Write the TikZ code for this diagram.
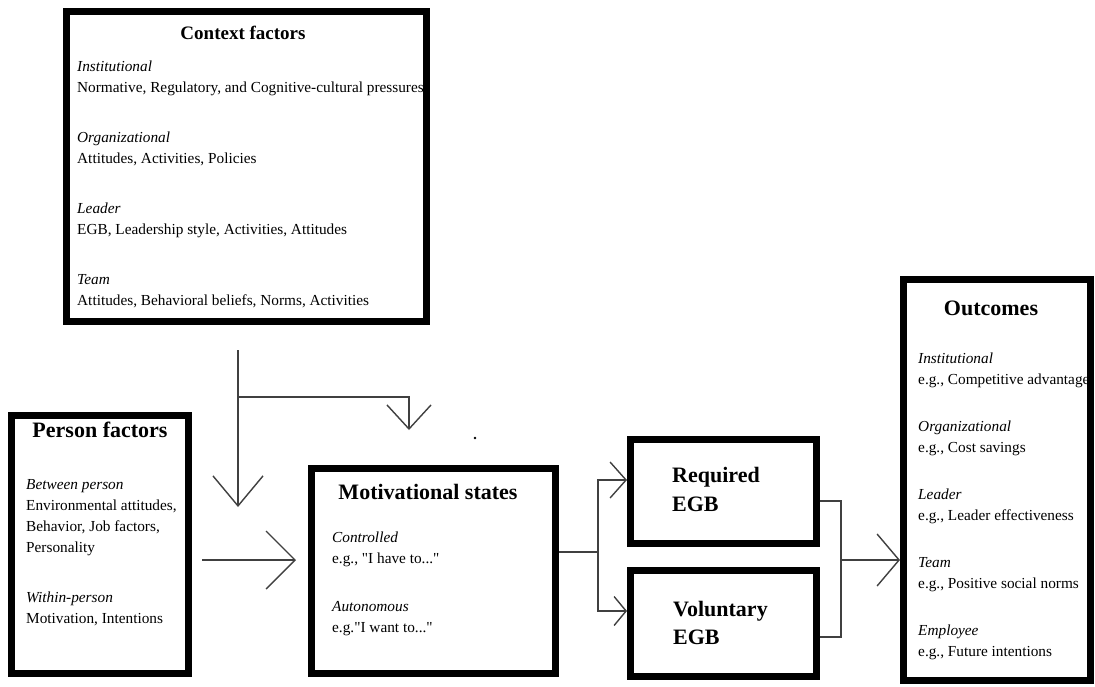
\documentclass[tikz,border=0pt]{standalone}
\usepackage{fontspec}
\setmainfont{Liberation Serif}
\usetikzlibrary{arrows.meta,positioning,calc}

\begin{document}
\begin{tikzpicture}[x=1pt, y=-1pt,
    box/.style={draw, line width=6.5pt, inner sep=0pt},
    ttl/.style={font=\fontsize{22}{28}\selectfont\bfseries, inner sep=0pt},
    body/.style={anchor=north west, align=left, inner sep=0pt, font=\fontsize{15.3}{21}\selectfont},
    conn/.style={line width=1.4pt, black!75},
    barb/.style 2 args={-{Straight Barb[length=#1pt, width=#2pt]}}]
    \useasboundingbox[fill=white] (0,0) rectangle (1095,686);

    % Boxes
    \node[box, minimum width=360pt, minimum height=310pt] (ctx) at (246.5,166.5) {};
    \node[box, minimum width=177pt, minimum height=258pt] (pers) at (100,544.5) {};
    \node[box, minimum width=244pt, minimum height=205pt] (mot) at (433.5,571) {};
    \node[box, minimum width=186pt, minimum height=104pt] (req) at (723.5,491.5) {};
    \node[box, minimum width=186pt, minimum height=106pt] (vol) at (723.5,623.5) {};
    \node[box, minimum width=187pt, minimum height=401pt] (out) at (997,480) {};

    % Context factors
    \node[ttl, font=\fontsize{19}{23}\selectfont\bfseries] (ctxttl) at (243,33) {Context factors};
    \node[body] (ctxtxt) at (77,61) {\textit{Institutional}\\
        Normative, Regulatory, and Cognitive-cultural pressures\\[29pt]
        \textit{Organizational}\\
        Attitudes, Activities, Policies\\[29pt]
        \textit{Leader}\\
        EGB, Leadership style, Activities, Attitudes\\[29pt]
        \textit{Team}\\
        Attitudes, Behavioral beliefs, Norms, Activities};

    % Person factors
    \node[ttl] (persttl) at (100,430) {Person factors};
    \node[body] (perstxt) at (26,479) {\textit{Between person}\\
        Environmental attitudes,\\
        Behavior, Job factors,\\
        Personality\\[29pt]
        \textit{Within-person}\\
        Motivation, Intentions};

    % Motivational states
    \node[ttl] (motttl) at (428,492) {Motivational states};
    \node[body] (mottxt) at (332,532) {\textit{Controlled}\\
        e.g., \textquotedbl I have to...\textquotedbl\\[27pt]
        \textit{Autonomous}\\
        e.g.\textquotedbl I want to...\textquotedbl};

    % EGB
    \node[ttl, anchor=north west, align=left, font=\fontsize{22}{29}\selectfont\bfseries] (reqttl) at (672,467) {Required\\EGB};
    \node[ttl, anchor=north west, align=left, font=\fontsize{22}{28}\selectfont\bfseries] (volttl) at (673,601) {Voluntary\\EGB};

    % Outcomes
    \node[ttl] (outttl) at (991,308) {Outcomes};
    \node[body] (outtxt) at (918,353) {\textit{Institutional}\\
        e.g., Competitive advantage\\[26pt]
        \textit{Organizational}\\
        e.g., Cost savings\\[26pt]
        \textit{Leader}\\
        e.g., Leader effectiveness\\[26pt]
        \textit{Team}\\
        e.g., Positive social norms\\[26pt]
        \textit{Employee}\\
        e.g., Future intentions};

    % Connectors
    \coordinate (ctxout) at (238,350);
    \coordinate (ctxtip) at (238,507);
    \coordinate (ctxbend) at (238,397);
    \coordinate (ctxtip2) at (409,430);
    \draw[conn, barb={30}{50}] (ctxout) -- (ctxtip);
    \draw[conn, barb={24}{44}] (ctxbend) -| (ctxtip2);

    \coordinate (persout) at (202,560);
    \coordinate (motin) at (296,560);
    \draw[conn, barb={29}{58}] (persout) -- (motin);

    \coordinate (split) at (598,552);
    \coordinate (reqin) at (627,480);
    \coordinate (volin) at (627,611);
    \draw[conn] (mot.east |- split) -- (split);
    \draw[conn, barb={16}{36}] (split) |- (reqin);
    \draw[conn, barb={12}{29}] (split) |- (volin);

    \coordinate (join) at (841,560);
    \coordinate (outin) at (900,560);
    \draw[conn] (req.east |- 0,501) -| (join);
    \draw[conn] (vol.east |- 0,637) -| (join);
    \draw[conn, barb={22}{52}] (join) -- (outin);

    % stray dot
    \fill (475,438) circle (1.3pt);
\end{tikzpicture}
\end{document}
